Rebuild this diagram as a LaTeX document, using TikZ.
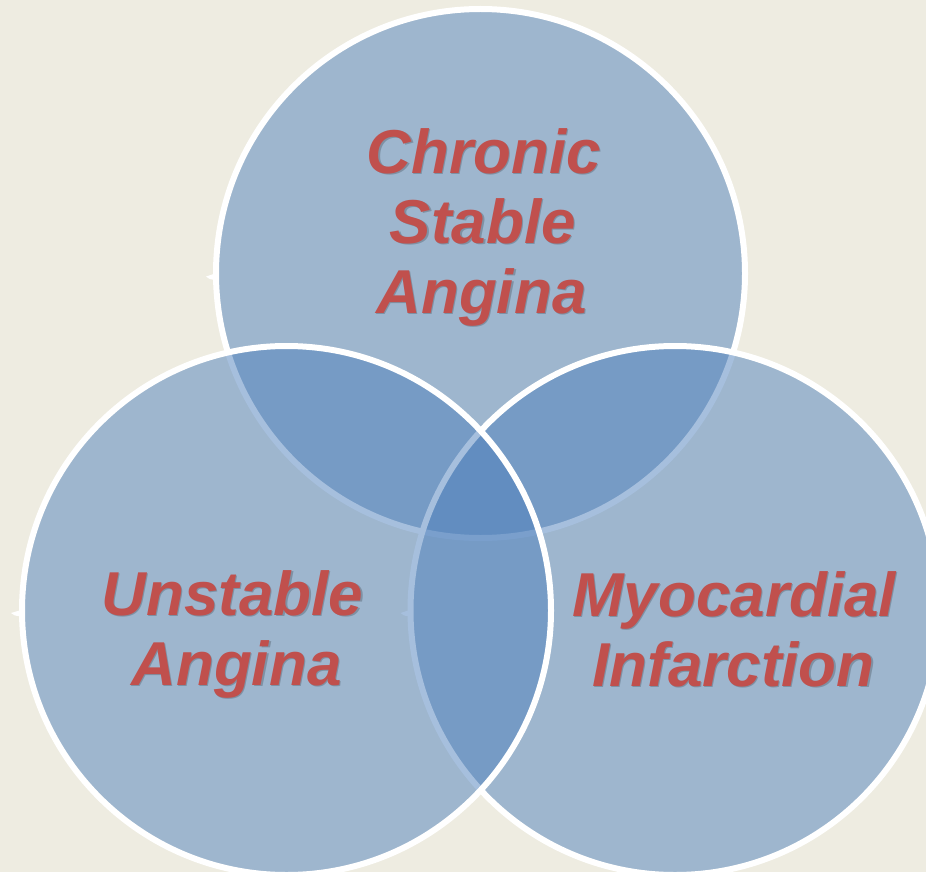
\documentclass[tikz,border=0pt]{standalone}
\usepackage{fontspec}
\setmainfont{Liberation Sans}
\definecolor{bg}{HTML}{EEECE1}
\definecolor{circ}{HTML}{4F81BD}
\definecolor{lbl}{HTML}{C0504D}
\begin{document}
\begin{tikzpicture}[x=1pt,y=-1pt,
  venn/.style={fill=circ, fill opacity=0.5, draw=white, line width=6pt},
  notch/.style={fill=white, draw=none},
  lab/.style={text=lbl, font=\fontsize{62}{70}\selectfont\bfseries\itshape, anchor=base, inner sep=0pt},
  labsh/.style={text=black, text opacity=0.2, font=\fontsize{62}{70}\selectfont\bfseries\itshape, anchor=base, inner sep=0pt}]
\useasboundingbox (0,0) rectangle (926,872);
\fill[bg] (0,0) rectangle (926,872);
\clip (0,0) rectangle (926,872);
% top circle
\draw[venn] (480.5,273.5) circle[radius=264.5pt];
\fill[notch] (215,273.5) -- (206,276.5) .. controls (209,279) .. (215,280) -- cycle;
% right circle
\draw[venn] (675,610.5) circle[radius=264.5pt];
\fill[notch] (409.5,610) -- (400.5,613) .. controls (403.5,615.5) .. (409.5,616.5) -- cycle;
% left circle
\draw[venn] (286.5,610.5) circle[radius=264.5pt];
\fill[notch] (21,610) -- (11,613) .. controls (14,615.5) .. (21,616.5) -- cycle;
% labels
\node[labsh] (s1) at (485.2,174.2) {Chronic};
\node[lab] (t1) at (484,173) {Chronic};
\node[labsh] (s2) at (484.2,244.2) {Stable};
\node[lab] (t2) at (483,243) {Stable};
\node[labsh] (s3) at (482.7,314.2) {Angina};
\node[lab] (t3) at (481.5,313) {Angina};
\node[labsh] (s4) at (233.7,616.2) {Unstable};
\node[lab] (t4) at (232.5,615) {Unstable};
\node[labsh] (s5) at (237.7,686.2) {Angina};
\node[lab] (t5) at (236.5,685) {Angina};
\node[labsh] (s6) at (735.2,617.2) {Myocardial};
\node[lab] (t6) at (734,616) {Myocardial};
\node[labsh] (s7) at (734.7,687.2) {Infarction};
\node[lab] (t7) at (733.5,686) {Infarction};
\end{tikzpicture}
\end{document}
